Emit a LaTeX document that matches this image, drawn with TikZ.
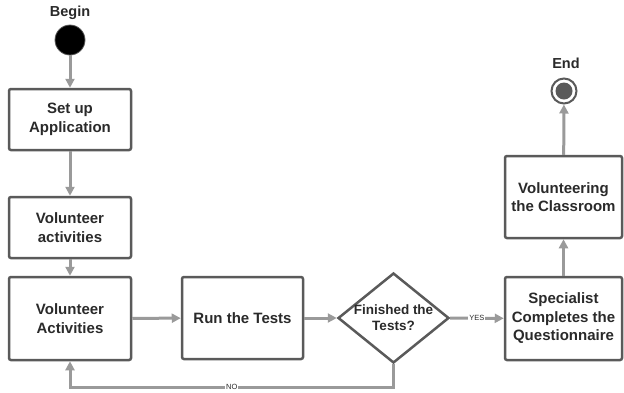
\documentclass[tikz,border=0pt]{standalone}
\usepackage{fontspec}
\setmainfont{Liberation Sans}
\usetikzlibrary{shapes.geometric,arrows.meta}
\definecolor{boxline}{HTML}{5A5A5A}
\definecolor{flowline}{HTML}{9A9A9A}
\definecolor{ink}{HTML}{2A2A2A}
\tikzset{
  stepbox/.style={rectangle, rounded corners=2pt, draw=boxline, line width=2.5pt, fill=white,
    text=ink, font=\bfseries\fontsize{15}{18.5}\selectfont, align=center, inner sep=2pt},
  decision/.style={diamond, draw=boxline, line width=2.5pt, fill=white, inner sep=0pt,
    minimum width=111pt, minimum height=90pt},
  flow/.style={draw=flowline, line width=3pt, -{Triangle[length=9pt,width=9pt]}},
  tag/.style={fill=white, text=ink, font=\fontsize{7.5}{8}\selectfont, inner sep=1pt},
  title/.style={text=ink, font=\bfseries\fontsize{14.5}{16}\selectfont}
}
\begin{document}
\begin{tikzpicture}[x=1pt,y=-1pt]
\useasboundingbox (0,0) rectangle (624,392);
\node[circle, fill=black, draw=boxline, line width=0.8pt, minimum size=30pt, inner sep=0pt] (begin) at (70,40){};
\node[title] (begintxt) at (70,13){Begin};
\node[stepbox, minimum width=122pt, minimum height=61pt] (setup) at (70,119.5){Set up\\Application};
\node[stepbox, minimum width=122pt, minimum height=61pt] (vact) at (70,227.5){Volunteer\\activities};
\node[stepbox, minimum width=122pt, minimum height=83pt] (act) at (70,318.5){Volunteer\\Activities};
\node[stepbox, minimum width=121pt, minimum height=82pt] (tests) at (242.5,318){Run the Tests};
\node[decision, label={[text=ink, font=\bfseries\fontsize{13.5}{16}\selectfont, align=center]center:Finished the\\Tests?}] (done) at (393.5,318){};
\node[stepbox, minimum width=117pt, minimum height=83pt] (spec) at (563.5,318.5){Specialist\\Completes the\\Questionnaire};
\node[stepbox, minimum width=117pt, minimum height=82pt] (class) at (563.5,197){Volunteering\\the Classroom};
\node[circle, draw=boxline, line width=2pt, fill=white, minimum size=25pt, inner sep=0pt,
  path picture={\fill[boxline] (path picture bounding box.center) circle (8.5pt);}] (end) at (564,91){};
\node[title] (endtxt) at (566,63){End};
\draw[flow] (begin) -- (setup);
\draw[flow] (setup) -- (vact);
\draw[flow] (vact) -- (act);
\draw[flow] (act) -- (tests);
\draw[flow] (tests) -- (done);
\draw[flow] (done) -- (spec) node[tag, midway]{YES};
\draw[flow] (done.south) -- ++(0,23) -| (act.south) node[tag, pos=0.25]{NO};
\draw[flow] (spec) -- (class);
\draw[flow] (class) -- (end);
\end{tikzpicture}
\end{document}
